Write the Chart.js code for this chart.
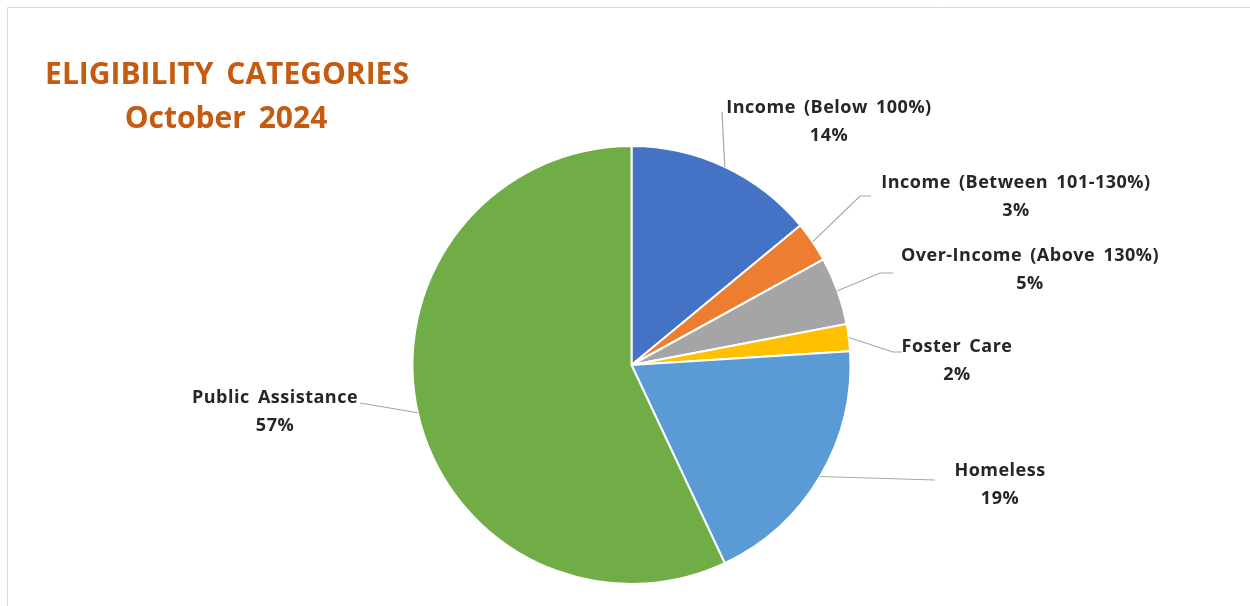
<!DOCTYPE html>
<html>
<head>
<meta charset="utf-8">
<script src="https://cdn.jsdelivr.net/npm/chart.js@4"></script>
<style>
  html, body { margin: 0; padding: 0; background: #fff; }
  #wrap { width: 1250px; height: 606px; position: relative; }
</style>
</head>
<body>
<div id="wrap"><canvas id="pie" width="1250" height="606"></canvas></div>
<script>
// Eligibility breakdown, percent of total
const categories = [
  'Income (Below 100%)',
  'Income (Between 101-130%)',
  'Over-Income (Above 130%)',
  'Foster Care',
  'Homeless',
  'Public Assistance',
];
const shares = [14, 3, 5, 2, 19, 57];
const sliceColors = ['#4472C4', '#ED7D31', '#A5A5A5', '#FFC000', '#5B9BD5', '#70AD47'];
const titleLines = ['ELIGIBILITY CATEGORIES', 'October 2024'];

// where each label sits (center x, first-line y) and the leader's bend points
const labelLayout = [
  { x: 829,  y: 108, leader: [[722, 112]] },
  { x: 1016, y: 183, leader: [[871, 196], [860, 196]] },
  { x: 1030, y: 256, leader: [[893, 273], [880, 273]] },
  { x: 957,  y: 347, leader: [[902, 352], [893, 352]] },
  { x: 1000, y: 471, leader: [[935, 480]] },
  { x: 275,  y: 398, leader: [[360, 403]] },
];

const FONT = '"Open Sans", Lato, sans-serif';

const decor = {
  id: 'decor',
  beforeDraw(chart) {
    const ctx = chart.ctx;
    ctx.save();
    ctx.fillStyle = '#fff';
    ctx.fillRect(0, 0, chart.width, chart.height);
    // frame
    ctx.strokeStyle = '#D9D9D9';
    ctx.lineWidth = 1;
    ctx.beginPath();
    ctx.moveTo(7.5, chart.height);
    ctx.lineTo(7.5, 7.5);
    ctx.lineTo(chart.width, 7.5);
    ctx.stroke();
    ctx.restore();
  },
  afterDraw(chart) {
    const ctx = chart.ctx;
    ctx.save();

    // title
    ctx.fillStyle = '#C55A11';
    ctx.textAlign = 'center';
    ctx.textBaseline = 'alphabetic';
    ctx.font = 'bold 30px ' + FONT;
    ctx.wordSpacing = '5px';
    ctx.fillText(titleLines[0], 227, 84);
    ctx.fillText(titleLines[1], 226, 128);

    // leaders + data labels
    const meta = chart.getDatasetMeta(0);
    const total = shares.reduce((a, b) => a + b, 0);
    ctx.letterSpacing = '0.5px';
    ctx.wordSpacing = '3px';
    meta.data.forEach((arc, i) => {
      const p = arc.getProps(['x', 'y', 'startAngle', 'endAngle', 'outerRadius'], true);
      const mid = (p.startAngle + p.endAngle) / 2;
      const ax = p.x + Math.cos(mid) * p.outerRadius;
      const ay = p.y + Math.sin(mid) * p.outerRadius;
      const lay = labelLayout[i];

      ctx.strokeStyle = '#A6A6A6';
      ctx.lineWidth = 1.2;
      ctx.beginPath();
      lay.leader.forEach(([lx, ly], k) => (k ? ctx.lineTo(lx, ly) : ctx.moveTo(lx, ly)));
      ctx.lineTo(ax, ay);
      ctx.stroke();

      ctx.fillStyle = '#262626';
      ctx.font = 'bold 18px ' + FONT;
      ctx.textBaseline = 'middle';
      ctx.fillText(categories[i], lay.x, lay.y);
      ctx.fillText(Math.round(shares[i] / total * 100) + '%', lay.x, lay.y + 28);
    });
    ctx.restore();
  },
};

new Chart(document.getElementById('pie'), {
  type: 'pie',
  data: {
    labels: categories,
    datasets: [{
      data: shares,
      backgroundColor: sliceColors,
      borderColor: '#fff',
      borderWidth: 2,
    }],
  },
  options: {
    responsive: false,
    animation: false,
    layout: { padding: { top: 145, bottom: 21, left: 400, right: 387 } },
    plugins: {
      legend: { display: false },
      tooltip: { enabled: false },
    },
  },
  plugins: [decor],
});
</script>
</body>
</html>
